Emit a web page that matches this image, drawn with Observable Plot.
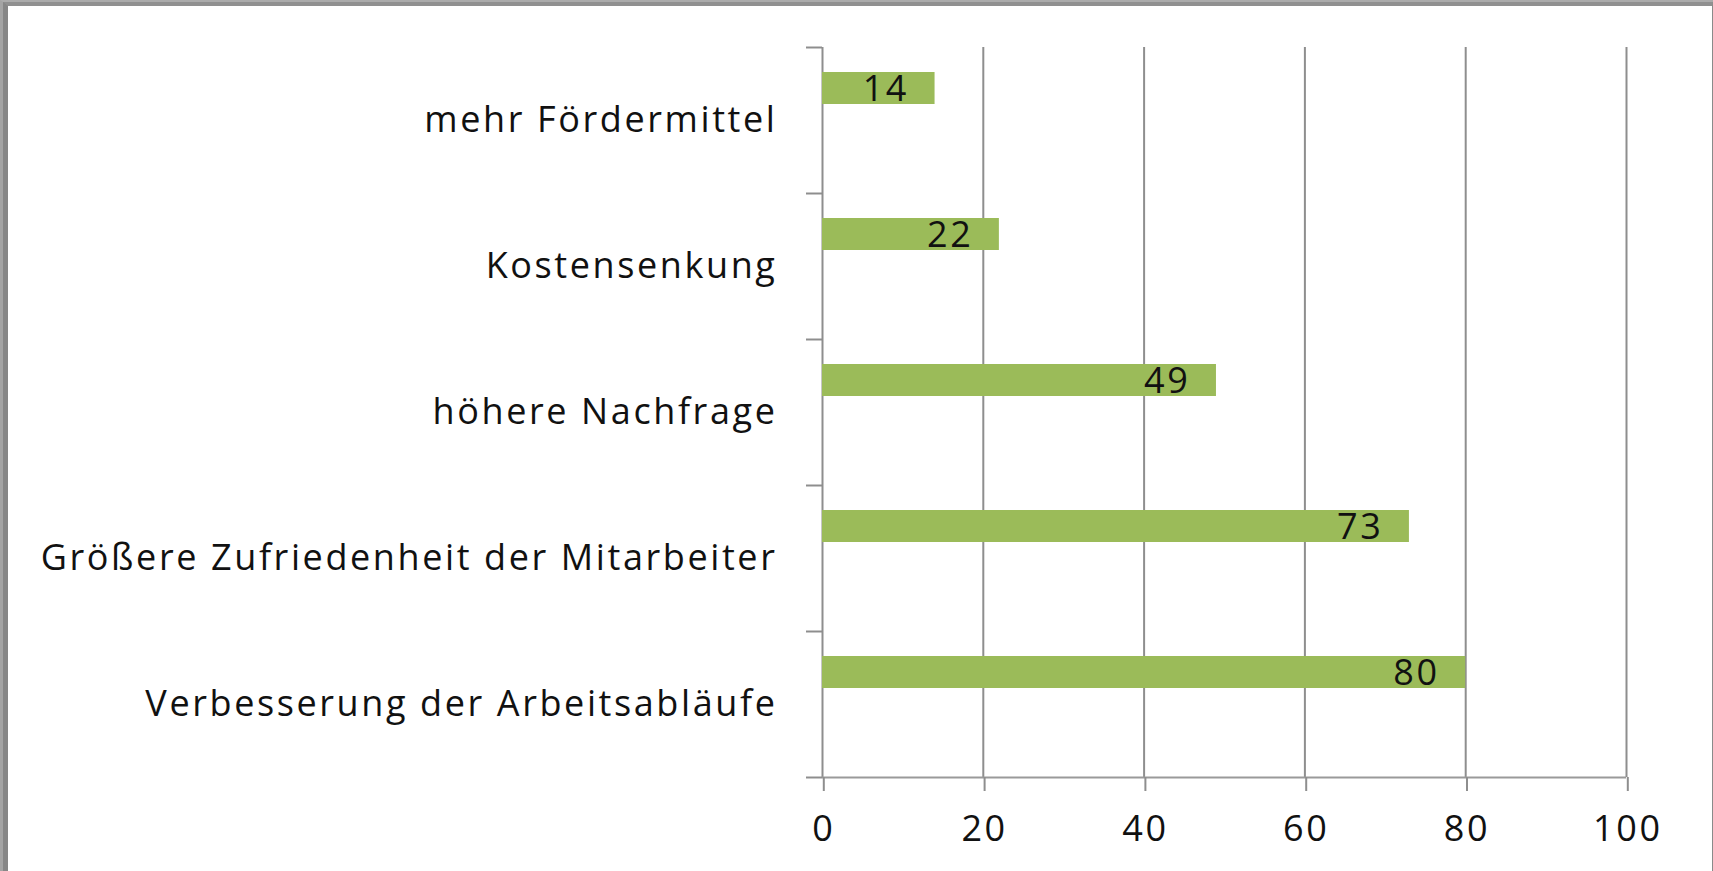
<!DOCTYPE html>
<html>
<head>
<meta charset="utf-8">
<script src="https://cdn.jsdelivr.net/npm/d3@7"></script>
<script src="https://cdn.jsdelivr.net/npm/@observablehq/plot@0.6"></script>
<style>
  html, body { margin: 0; padding: 0; background: #fff; overflow: hidden; }
  #outer { width: 1713px; height: 871px; box-sizing: border-box; border-left: 3px solid #a4a4a4; border-top: 2px solid #ababab; }
  #inner { width: 100%; height: 100%; box-sizing: border-box; border-left: 5px solid #878787; border-top: 4px solid #909090; border-right: 1px solid #8a8a8a; }
  svg { display: block; }
  svg text { letter-spacing: 2.6px; }
</style>
</head>
<body>
<div id="outer"><div id="inner"><div id="chart"></div></div></div>
<script>
const categories = [
  "mehr Fördermittel",
  "Kostensenkung",
  "höhere Nachfrage",
  "Größere Zufriedenheit der Mitarbeiter",
  "Verbesserung der Arbeitsabläufe"
];
const values = [14, 22, 49, 73, 80];
const xTicks = [0, 20, 40, 60, 80, 100];

const data = categories.map((c, i) => ({category: c, value: values[i]}));
const font = "'Open Sans', sans-serif";
const fs = 36;

const chart = Plot.plot({
  width: 1704,
  height: 865,
  marginLeft: 814,
  marginRight: 86,
  marginTop: 41,
  marginBottom: 94,
  style: {fontFamily: font, fontSize: fs + "px", color: "#1a1a1a", background: "white"},
  x: {domain: [0, 100], label: null},
  y: {domain: categories, padding: 0, label: null},
  marks: [
    Plot.gridX(xTicks.slice(1), {stroke: "#8e8e8e", strokeOpacity: 1, strokeWidth: 2}),
    Plot.ruleX([0], {stroke: "#8e8e8e", strokeWidth: 2}),
    Plot.ruleY([categories[categories.length - 1]], {stroke: "#9a9a9a", strokeWidth: 2, dy: 73}),
    Plot.barX(data, {y: "category", x: "value", fill: "#9BBB59", insetTop: 25, insetBottom: 89}),
    Plot.text(data, {y: "category", x: "value", text: d => String(d.value), textAnchor: "end", dx: -26, dy: -31, fontSize: fs, fill: "#111"}),
    Plot.axisY({tickSize: 16, tickFormat: () => "", dy: -73, stroke: "#8e8e8e", strokeWidth: 2}),
    Plot.axisY([categories[categories.length - 1]], {tickSize: 16, tickFormat: () => "", dy: 73, stroke: "#8e8e8e", strokeWidth: 2}),
    Plot.axisY({tickSize: 0, tickPadding: 45, fontSize: fs, fill: "#111"}),
    Plot.axisX({ticks: xTicks, tickSize: 14, tickPadding: 24, dx: 1.3, fontSize: fs, fill: "#111", stroke: "#8e8e8e", strokeWidth: 2})
  ]
});
document.getElementById("chart").appendChild(chart);
</script>
</body>
</html>
